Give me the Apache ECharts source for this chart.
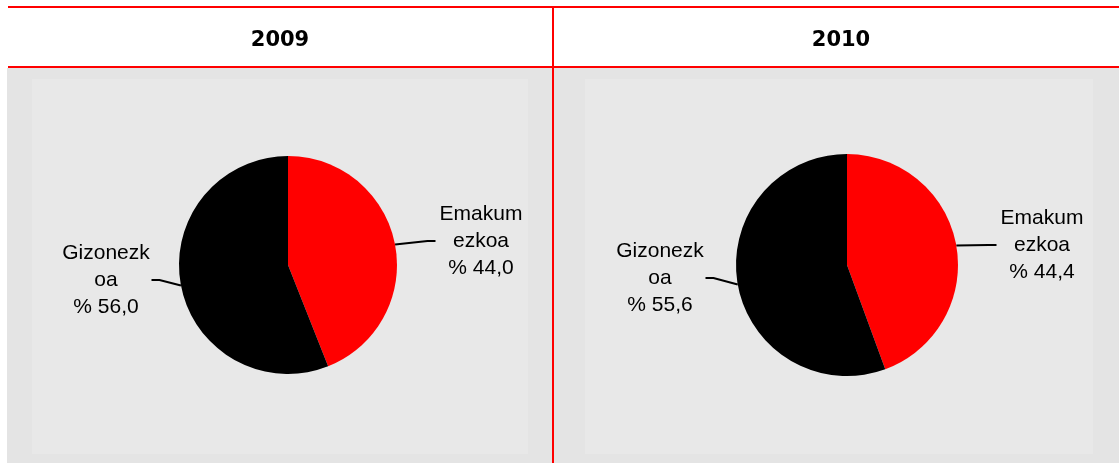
<!DOCTYPE html>
<html>
<head>
<meta charset="utf-8">
<script src="https://cdn.jsdelivr.net/npm/echarts@6/dist/echarts.min.js"></script>
<style>
  html, body { margin: 0; padding: 0; background: #fff; }
  #chart { width: 1119px; height: 463px; }
</style>
</head>
<body>
<div id="chart"></div>
<script>
// data
var years = ['2009', '2010'];
var categories = ['Emakumezkoa', 'Gizonezkoa'];
var values2009 = [44.0, 56.0];
var values2010 = [44.4, 55.6];
var sliceColors = ['#ff0000', '#000000'];

var chart = echarts.init(document.getElementById('chart'));

function fmt(v) {
    return v.toFixed(1).replace('.', ',');
}

// pie centres / radii per panel, label centres
var pies = [
    {cx: 288, cy: 265, r: 109, data: values2009, head: 280,
     labels: [[481, 241], [106, 280]]},
    {cx: 847, cy: 265, r: 111, data: values2010, head: 841,
     labels: [[1042, 245], [660, 278]]}
];

var series = pies.map(function (p) {
    return {
        type: 'pie',
        center: [p.cx, p.cy],
        radius: p.r,
        startAngle: 90,
        clockwise: true,
        animation: false,
        silent: true,
        data: categories.map(function (c, i) {
            return {name: c, value: p.data[i], itemStyle: {color: sliceColors[i]}};
        }),
        label: {
            show: true,
            formatter: function (d) { return d.name + '\n% ' + fmt(d.value); },
            color: '#000',
            fontFamily: 'Liberation Sans, Arial, sans-serif',
            fontSize: 21,
            lineHeight: 27,
            width: 91,
            overflow: 'breakAll',
            align: 'center'
        },
        labelLine: {
            show: true,
            length2: 8,
            lineStyle: {color: '#000', width: 2}
        },
        labelLayout: function (params) {
            var pos = p.labels[params.dataIndex];
            return {x: pos[0], y: pos[1], align: 'center', verticalAlign: 'middle'};
        }
    };
});

var headText = pies.map(function (p, i) {
    return {
        type: 'text', x: p.head, y: 41, z: 2,
        style: {text: years[i], fill: '#000', font: 'bold 21px "DejaVu Sans"',
                align: 'center', verticalAlign: 'middle'}
    };
});

var option = {
    backgroundColor: '#ffffff',
    graphic: [
        {type: 'rect', shape: {x: 7, y: 68, width: 1112, height: 395}, style: {fill: '#e4e4e4'}, z: 0},
        {type: 'rect', shape: {x: 32, y: 79, width: 496, height: 375}, style: {fill: '#e8e8e8'}, z: 0},
        {type: 'rect', shape: {x: 585, y: 79, width: 508, height: 375}, style: {fill: '#e8e8e8'}, z: 0},
        {type: 'line', shape: {x1: 8, y1: 7, x2: 1119, y2: 7}, style: {stroke: '#ff0000', lineWidth: 2}, z: 1},
        {type: 'line', shape: {x1: 8, y1: 67, x2: 1119, y2: 67}, style: {stroke: '#ff0000', lineWidth: 2}, z: 1},
        {type: 'line', shape: {x1: 553, y1: 6, x2: 553, y2: 463}, style: {stroke: '#ff0000', lineWidth: 2}, z: 1}
    ].concat(headText),
    series: series
};

chart.setOption(option);
</script>
</body>
</html>
